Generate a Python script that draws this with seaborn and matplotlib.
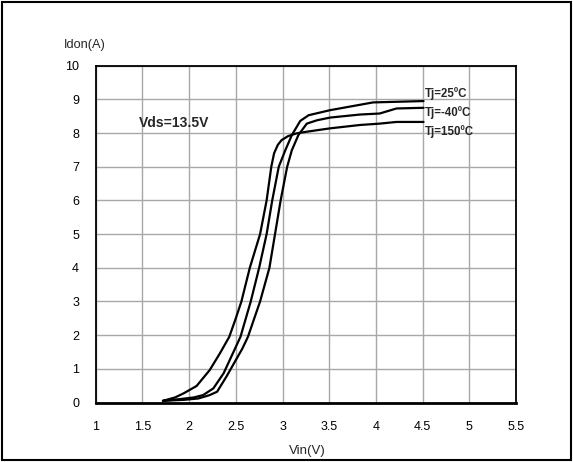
import pandas as pd
import seaborn as sns
import matplotlib.pyplot as plt
from matplotlib.patches import Rectangle

# values
vin_150 = [1.72, 1.85, 1.94, 2.08, 2.22, 2.33, 2.43, 2.50, 2.56, 2.65, 2.76, 2.83,
           2.88, 2.91, 2.95, 2.99, 3.06, 3.15, 3.26, 3.51, 3.83, 4.04, 4.22, 4.51]
idon_150 = [0.05, 0.15, 0.27, 0.49, 0.96, 1.46, 1.95, 2.50, 3.00, 4.00, 5.00, 6.00,
            7.00, 7.40, 7.65, 7.79, 7.91, 7.99, 8.04, 8.14, 8.24, 8.28, 8.33, 8.33]

vin_25 = [1.72, 1.90, 2.05, 2.15, 2.26, 2.37, 2.46, 2.55, 2.66, 2.75, 2.83, 2.89,
          2.96, 3.03, 3.10, 3.19, 3.28, 3.51, 3.83, 3.97, 4.51]
idon_25 = [0.05, 0.10, 0.15, 0.22, 0.42, 0.87, 1.41, 1.95, 3.00, 4.00, 5.00, 6.00,
           7.00, 7.49, 7.94, 8.36, 8.53, 8.68, 8.84, 8.91, 8.95]

vin_m40 = [1.72, 1.95, 2.10, 2.22, 2.30, 2.40, 2.49, 2.57, 2.63, 2.76, 2.86, 2.92,
           2.98, 3.05, 3.10, 3.17, 3.26, 3.37, 3.51, 3.83, 4.04, 4.22, 4.51]
idon_m40 = [0.05, 0.08, 0.12, 0.22, 0.32, 0.77, 1.21, 1.60, 1.95, 3.00, 4.00, 5.00,
            6.00, 7.00, 7.49, 7.94, 8.28, 8.38, 8.46, 8.55, 8.58, 8.73, 8.75]

curve_labels = ["Tj=25ºC", "Tj=-40ºC", "Tj=150ºC"]
label_y = [9.17, 8.61, 8.06]

x_ticks = [1, 1.5, 2, 2.5, 3, 3.5, 4, 4.5, 5, 5.5]
y_ticks = list(range(0, 11))

frames = []
for name, xs, ys in [("25", vin_25, idon_25), ("-40", vin_m40, idon_m40), ("150", vin_150, idon_150)]:
    frames.append(pd.DataFrame({"Vin": xs, "Idon": ys, "Tj": name}))
df = pd.concat(frames, ignore_index=True)

sns.set_theme(style="white")
plt.rcParams['font.family'] = ['Liberation Sans', 'DejaVu Sans']

fig = plt.figure(figsize=(5.73, 4.62), dpi=100)
ax = fig.add_axes([95.7 / 573, 1 - 402.5 / 462, (516 - 95.7) / 573, (402.5 - 65.7) / 462])

sns.lineplot(data=df, x="Vin", y="Idon", hue="Tj", palette=["black"] * 3,
             estimator=None, sort=False, legend=False, linewidth=1.6,
             solid_joinstyle="round", solid_capstyle="round", ax=ax)

ax.set_xlim(1, 5.5)
ax.set_ylim(0, 10)
ax.set_xticks(x_ticks)
ax.set_xticklabels([f"{t:g}" for t in x_ticks])
ax.set_yticks(y_ticks)
ax.grid(True, color="#a8a8a8", linewidth=1)
ax.tick_params(length=0, labelsize=9, colors="black")
ax.tick_params(axis="x", pad=13)
ax.tick_params(axis="y", pad=12)
for side in ["top", "left", "right"]:
    ax.spines[side].set_color("black")
    ax.spines[side].set_linewidth(1.3)
ax.spines["bottom"].set_color("black")
ax.spines["bottom"].set_linewidth(2)
ax.set_xlabel("")
ax.set_ylabel("")

for txt, yy in zip(curve_labels, label_y):
    ax.text(4.525, yy, txt, fontsize=8.3, fontweight="bold", va="center", ha="left")
ax.text(1.46, 8.3, "Vds=13.5V", fontsize=10, fontweight="bold", va="center", ha="left")

fig.text(64 / 573, 1 - 45 / 462, "Idon(A)", fontsize=9.2, va="center", ha="left")
fig.text(307 / 573, 1 - 451 / 462, "Vin(V)", fontsize=9.5, va="center", ha="center")

fig.patches.append(Rectangle((2 / 573, 2 / 462), 569 / 573, 458 / 462, transform=fig.transFigure,
                             fill=False, edgecolor="black", linewidth=1.5))

fig.savefig("out.png", dpi=100)
